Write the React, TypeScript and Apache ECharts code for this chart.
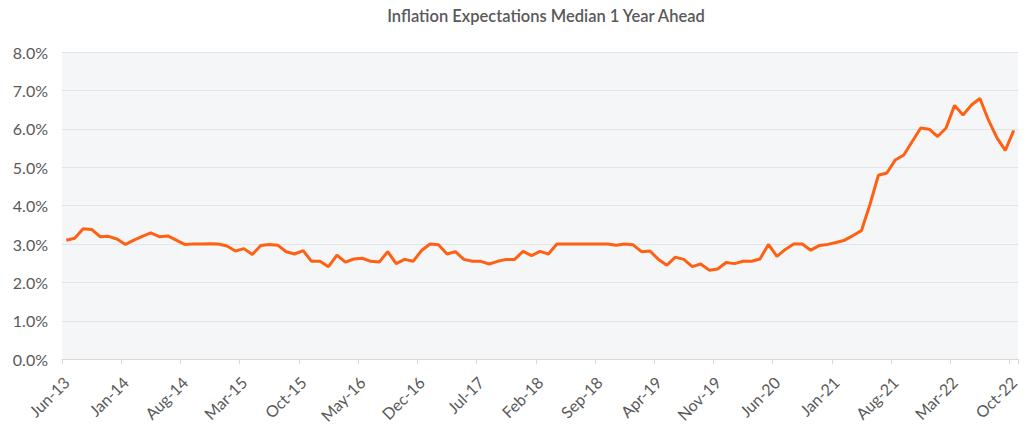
import React, { useEffect, useRef } from "react";
import * as echarts from "echarts";

const monthNames = ["Jan", "Feb", "Mar", "Apr", "May", "Jun", "Jul", "Aug", "Sep", "Oct", "Nov", "Dec"];
const startYear = 2013;
const startMonth = 5; // Jun
const monthCount = 113; // Jun-13 .. Oct-22

const categories: string[] = [];
for (let i = 0; i < monthCount; i++) {
  const m = (startMonth + i) % 12;
  const y = startYear + Math.floor((startMonth + i) / 12);
  categories.push(`${monthNames[m]}-${String(y % 100).padStart(2, "0")}`);
}

const medianOneYear: number[] = [
  3.10, 3.15, 3.40, 3.38, 3.19, 3.20, 3.13, 2.99, 3.10, 3.20,
  3.29, 3.19, 3.21, 3.10, 2.99, 3.00, 3.00, 3.01, 3.00, 2.95,
  2.82, 2.88, 2.73, 2.96, 2.99, 2.97, 2.80, 2.74, 2.83, 2.55,
  2.55, 2.41, 2.71, 2.53, 2.61, 2.63, 2.55, 2.53, 2.80, 2.49,
  2.60, 2.55, 2.83, 3.00, 2.98, 2.74, 2.80, 2.60, 2.55, 2.55,
  2.48, 2.55, 2.60, 2.60, 2.81, 2.70, 2.81, 2.74, 3.00, 3.00,
  3.00, 3.00, 3.00, 3.00, 3.00, 2.97, 3.00, 2.98, 2.80, 2.82,
  2.60, 2.45, 2.66, 2.60, 2.41, 2.48, 2.32, 2.35, 2.52, 2.49,
  2.55, 2.55, 2.61, 2.99, 2.68, 2.86, 3.00, 3.00, 2.84, 2.96,
  2.99, 3.04, 3.10, 3.22, 3.35, 4.03, 4.79, 4.85, 5.19, 5.32,
  5.67, 6.02, 5.99, 5.80, 6.02, 6.61, 6.36, 6.62, 6.79, 6.23,
  5.77, 5.44, 5.96,
];

const titleText = "Inflation Expectations Median 1 Year Ahead";

export default function App() {
  const ref = useRef<HTMLDivElement>(null);
  useEffect(() => {
    if (!ref.current) return;
    const chart = echarts.init(ref.current, undefined, { renderer: "svg" });
    chart.setOption({
      animation: false,
      backgroundColor: "#ffffff",
      title: {
        text: titleText,
        left: 541,
        textAlign: "center",
        top: 2,
        textStyle: {
          fontFamily: "Lato",
          fontSize: 16.5,
          fontWeight: 600,
          color: "#595959",
        },
      },
      grid: {
        left: 62,
        right: 11,
        top: 52,
        bottom: 66,
        show: true,
        backgroundColor: "#f5f6f8",
        borderWidth: 0,
      },
      xAxis: {
        type: "category",
        data: categories,
        boundaryGap: true,
        axisLine: { show: true, lineStyle: { color: "#d9d9d9", width: 1 } },
        axisTick: { show: true, interval: 6, length: 5, lineStyle: { color: "#d9d9d9" } },
        axisLabel: {
          interval: 6,
          rotate: 45,
          fontFamily: "Lato",
          fontSize: 16,
          color: "#595959",
          margin: 20,
        },
        splitLine: { show: false },
      },
      yAxis: {
        type: "value",
        min: 0,
        max: 8,
        interval: 1,
        axisLine: { show: false },
        axisTick: { show: false },
        axisLabel: {
          formatter: (v: number) => `${v.toFixed(1)}%`,
          fontFamily: "Lato",
          fontSize: 16,
          color: "#595959",
          margin: 14,
        },
        splitLine: { lineStyle: { color: "#e3e4e7", width: 1 } },
      },
      series: [
        {
          type: "line",
          data: medianOneYear,
          symbol: "none",
          lineStyle: { color: "#ff6114", width: 3 },
          itemStyle: { color: "#ff6114" },
        },
      ],
    });
    return () => chart.dispose();
  }, []);
  return <div ref={ref} style={{ width: 1029, height: 426, position: "absolute", left: 0, top: 0 }} />;
}
